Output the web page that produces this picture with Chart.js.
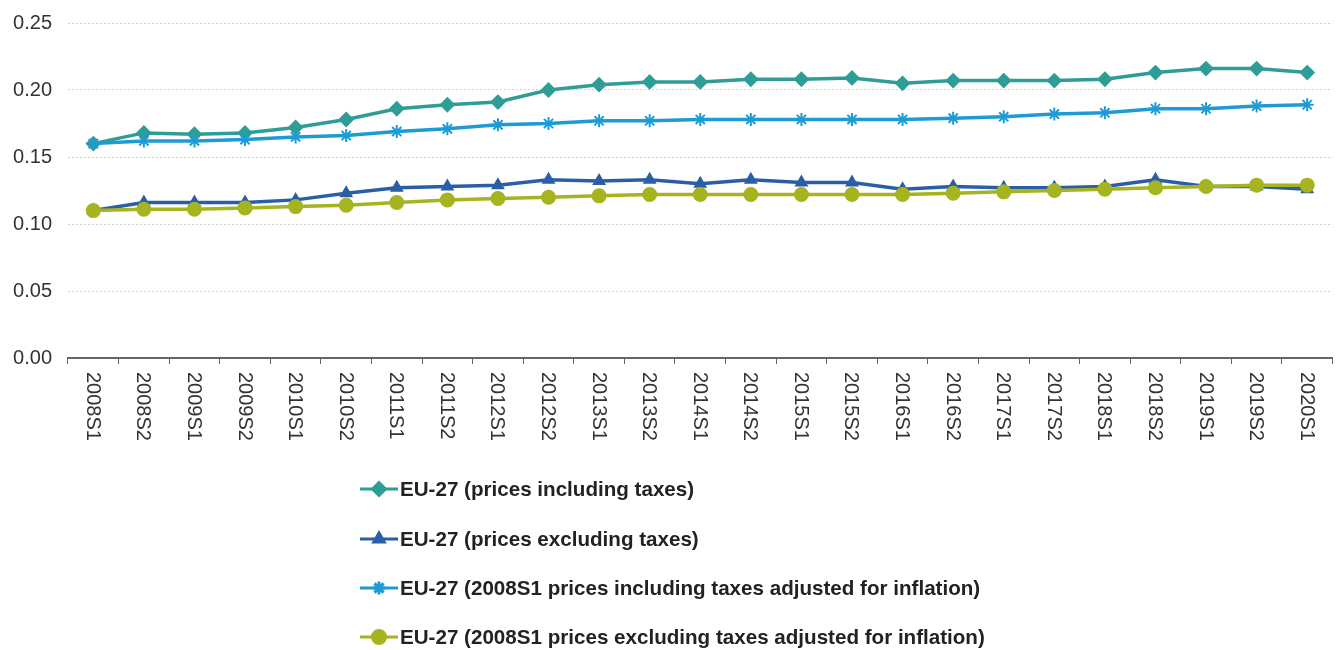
<!DOCTYPE html>
<html>
<head>
<meta charset="utf-8">
<script src="https://cdn.jsdelivr.net/npm/chart.js@4.4.1/dist/chart.umd.min.js"></script>
<style>
  html, body { margin: 0; padding: 0; background: #fff; }
  #wrap { width: 1341px; height: 650px; }
</style>
</head>
<body>
<div id="wrap"><canvas id="chart" width="1341" height="650"></canvas></div>
<script>
// Semesters on the x axis
const periods = [
    '2008S1', '2008S2', '2009S1', '2009S2', '2010S1', '2010S2', '2011S1', '2011S2',
    '2012S1', '2012S2', '2013S1', '2013S2', '2014S1', '2014S2', '2015S1', '2015S2',
    '2016S1', '2016S2', '2017S1', '2017S2', '2018S1', '2018S2', '2019S1', '2019S2', '2020S1'
];

// Values (EUR per kWh)
const inclTaxes = [
    0.160, 0.168, 0.167, 0.168, 0.172, 0.178, 0.186, 0.189, 0.191, 0.200, 0.204, 0.206, 0.206,
    0.208, 0.208, 0.209, 0.205, 0.207, 0.207, 0.207, 0.208, 0.213, 0.216, 0.216, 0.213
];
const exclTaxes = [
    0.110, 0.116, 0.116, 0.116, 0.118, 0.123, 0.127, 0.128, 0.129, 0.133, 0.132, 0.133, 0.130,
    0.133, 0.131, 0.131, 0.126, 0.128, 0.127, 0.127, 0.128, 0.133, 0.128, 0.128, 0.126
];
const inclTaxesReal = [
    0.160, 0.162, 0.162, 0.163, 0.165, 0.166, 0.169, 0.171, 0.174, 0.175, 0.177, 0.177, 0.178,
    0.178, 0.178, 0.178, 0.178, 0.179, 0.180, 0.182, 0.183, 0.186, 0.186, 0.188, 0.189
];
const exclTaxesReal = [
    0.110, 0.111, 0.111, 0.112, 0.113, 0.114, 0.116, 0.118, 0.119, 0.120, 0.121, 0.122, 0.122,
    0.122, 0.122, 0.122, 0.122, 0.123, 0.124, 0.125, 0.126, 0.127, 0.128, 0.129, 0.129
];

const yTicks = [0, 0.05, 0.10, 0.15, 0.20, 0.25];

const FONT = '"Liberation Sans", Arial, sans-serif';

// Draws the x labels rotated clockwise (top to bottom)
const xLabelsPlugin = {
    id: 'xLabels',
    afterDraw(chart) {
        const ctx = chart.ctx;
        const xScale = chart.scales.x;
        ctx.save();
        ctx.font = '20px ' + FONT;
        ctx.fillStyle = '#333';
        ctx.textAlign = 'left';
        ctx.textBaseline = 'middle';
        periods.forEach((p, i) => {
            const x = xScale.getPixelForValue(i);
            ctx.save();
            ctx.translate(x - 1, chart.chartArea.bottom + 14);
            ctx.rotate(Math.PI / 2);
            ctx.fillText(p, 0, 0);
            ctx.restore();
        });
        ctx.restore();
    }
};

// Vertical legend under the axis
const legendPlugin = {
    id: 'vLegend',
    afterDraw(chart) {
        const ctx = chart.ctx;
        const x0 = 360;
        const rows = [489, 539, 588, 637];
        ctx.save();
        chart.data.datasets.forEach((ds, i) => {
            const y = rows[i];
            ctx.strokeStyle = ds.borderColor;
            ctx.lineWidth = 3;
            ctx.beginPath();
            ctx.moveTo(x0, y);
            ctx.lineTo(x0 + 38, y);
            ctx.stroke();
            ctx.fillStyle = ds.borderColor;
            Chart.helpers.drawPoint(ctx, {
                pointStyle: ds.pointStyle,
                radius: ds.pointRadius,
                rotation: 0,
                borderWidth: 2
            }, x0 + 19, y);
            ctx.fillStyle = '#222';
            ctx.font = 'bold 20.6px ' + FONT;
            ctx.textAlign = 'left';
            ctx.textBaseline = 'middle';
            ctx.fillText(ds.label, x0 + 40, y + 1);
        });
        ctx.restore();
    }
};

function series(label, data, color, style, radius, order) {
    return {
        label: label,
        data: data,
        borderColor: color,
        backgroundColor: color,
        pointBackgroundColor: color,
        pointBorderColor: color,
        pointStyle: style,
        pointRadius: radius,
        pointBorderWidth: 2,
        borderWidth: 3.5,
        tension: 0,
        order: order
    };
}

new Chart(document.getElementById('chart').getContext('2d'), {
    type: 'line',
    data: {
        labels: periods,
        datasets: [
            series('EU-27 (prices including taxes)', inclTaxes, '#2e9d96', 'rectRot', 6.5, 3),
            series('EU-27 (prices excluding taxes)', exclTaxes, '#2a5fa6', 'triangle', 6, 2),
            series('EU-27 (2008S1 prices including taxes adjusted for inflation)', inclTaxesReal, '#1d9bd5', 'star', 6.5, 1),
            series('EU-27 (2008S1 prices excluding taxes adjusted for inflation)', exclTaxesReal, '#a6b41f', 'circle', 6.5, 0)
        ]
    },
    options: {
        responsive: false,
        devicePixelRatio: 1,
        animation: false,
        layout: { padding: { top: 23, right: 6, left: 0, bottom: 0 } },
        plugins: {
            legend: { display: false },
            tooltip: { enabled: false }
        },
        scales: {
            x: {
                offset: true,
                grid: {
                    offset: true,
                    drawOnChartArea: false,
                    drawTicks: true,
                    tickLength: 6,
                    color: '#666',
                    lineWidth: 1
                },
                border: { display: true, color: '#666', width: 2 },
                ticks: { display: false },
                afterFit(scale) {
                    scale.height = 292;
                    scale.paddingLeft = 0;
                    scale.paddingRight = 0;
                }
            },
            y: {
                min: 0,
                max: 0.25,
                afterBuildTicks(scale) {
                    scale.ticks = yTicks.map(v => ({ value: v }));
                },
                grid: {
                    drawTicks: false,
                    color: '#d0d0d0',
                    lineWidth: 1
                },
                border: { display: false, dash: [2, 2] },
                ticks: {
                    padding: 16,
                    color: '#333',
                    font: { family: FONT, size: 20 },
                    callback: v => Number(v).toFixed(2)
                },
                afterFit(scale) {
                    scale.width = 68;
                    scale.paddingTop = 0;
                    scale.paddingBottom = 0;
                }
            }
        }
    },
    plugins: [xLabelsPlugin, legendPlugin]
});
</script>
</body>
</html>
